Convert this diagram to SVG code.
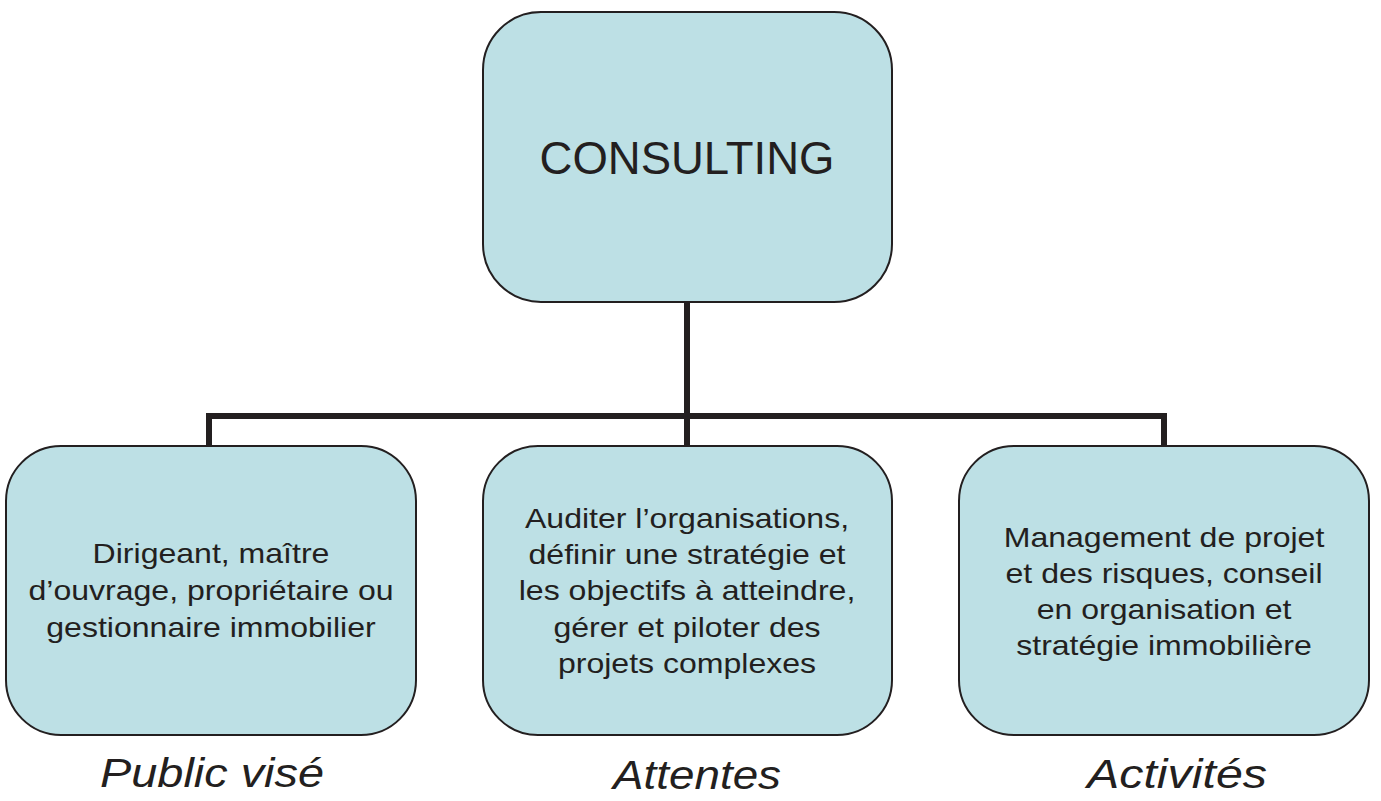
<svg xmlns="http://www.w3.org/2000/svg" width="1381" height="801" viewBox="0 0 1381 801">
<style>
.box{fill:#bde0e5;stroke:#231f20;stroke-width:2}
.conn{fill:none;stroke:#231f20;stroke-width:6;stroke-linecap:butt;stroke-linejoin:miter}
.t{font-family:"Liberation Sans",Arial,sans-serif;font-size:28px;fill:#231f20;text-anchor:middle}
.big{font-family:"Liberation Sans",Arial,sans-serif;font-size:45.5px;fill:#231f20;text-anchor:middle}
.lab{font-family:"Liberation Sans",Arial,sans-serif;font-size:40px;font-style:italic;fill:#231f20}
</style>
<rect width="1381" height="801" fill="#ffffff"/>
<g id="connectors">
<path class="conn" d="M687,302 V446"/>
<path class="conn" d="M209,446 V416 H1164 V446"/>
</g>
<g id="consulting">
<rect class="box" x="483" y="12" width="409" height="290" rx="58" ry="58"/>
<text class="big" x="687" y="174">CONSULTING</text>
</g>
<g id="public">
<rect class="box" x="6" y="446" width="410" height="289" rx="55" ry="55"/>
<g transform="translate(211 0) scale(1.145 1)">
<text class="t" x="0" y="563">Dirigeant, maître</text>
<text class="t" x="0" y="600">d’ouvrage, propriétaire ou</text>
<text class="t" x="0" y="637">gestionnaire immobilier</text>
</g>
</g>
<g id="attentes">
<rect class="box" x="483" y="446" width="409" height="289" rx="55" ry="55"/>
<g transform="translate(687 0) scale(1.145 1)">
<text class="t" x="0" y="528">Auditer l’organisations,</text>
<text class="t" x="0" y="564">définir une stratégie et</text>
<text class="t" x="0" y="600">les objectifs à atteindre,</text>
<text class="t" x="0" y="637">gérer et piloter des</text>
<text class="t" x="0" y="673">projets complexes</text>
</g>
</g>
<g id="activites">
<rect class="box" x="959" y="446" width="410" height="289" rx="55" ry="55"/>
<g transform="translate(1164 0) scale(1.145 1)">
<text class="t" x="0" y="547">Management de projet</text>
<text class="t" x="0" y="583">et des risques, conseil</text>
<text class="t" x="0" y="619">en organisation et</text>
<text class="t" x="0" y="655">stratégie immobilière</text>
</g>
</g>
<g id="labels">
<text class="lab" x="100" y="787" textLength="224" lengthAdjust="spacingAndGlyphs">Public visé</text>
<text class="lab" x="613" y="789" textLength="168" lengthAdjust="spacingAndGlyphs">Attentes</text>
<text class="lab" x="1087" y="788" textLength="180" lengthAdjust="spacingAndGlyphs">Activités</text>
</g>
</svg>
